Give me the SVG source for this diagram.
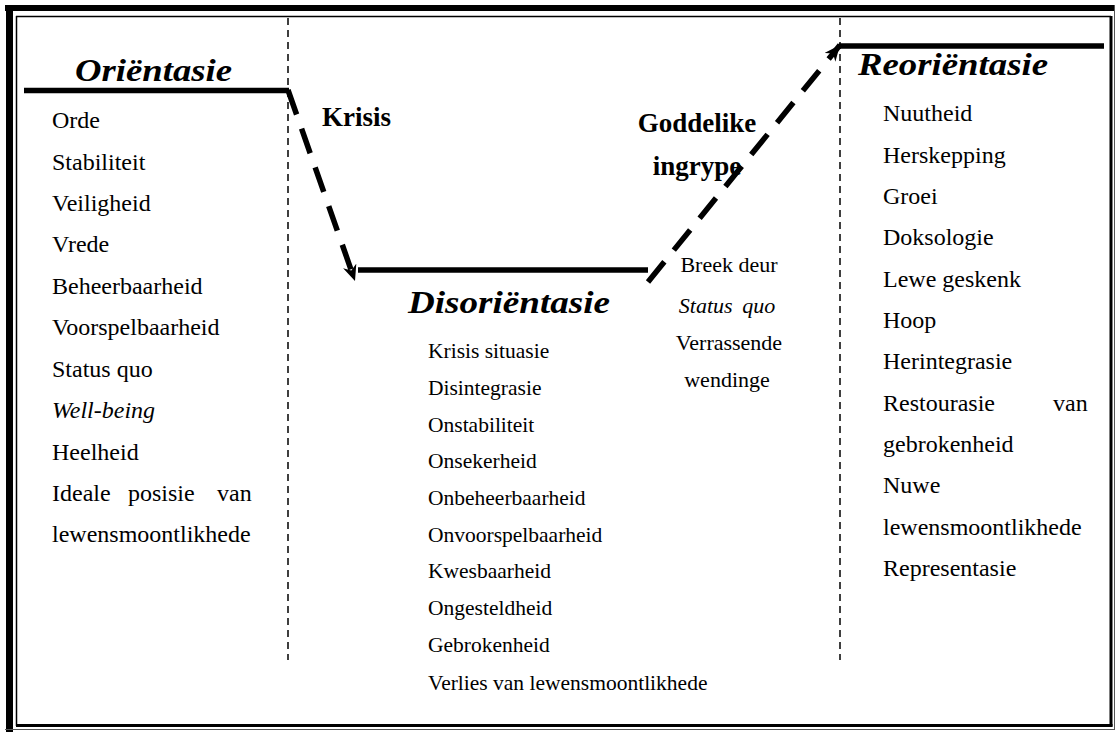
<svg xmlns="http://www.w3.org/2000/svg" width="1116" height="733" viewBox="0 0 1116 733" font-family="'Liberation Serif', 'Times New Roman', Tinos, 'DejaVu Serif', serif">
<style>
text { fill: #000; }
.body { font-size: 24px; }
.mid { font-size: 21.5px; }
.side { font-size: 22px; text-anchor: middle; }
.head { font-size: 32px; font-weight: bold; font-style: italic; }
.lab { font-size: 27px; font-weight: bold; }
.it { font-style: italic; }
.divider { stroke: #000; stroke-width: 1.5; stroke-dasharray: 7 5; fill: none; }
.solid { stroke: #000; stroke-width: 5.5; fill: none; }
.dash { stroke: #000; stroke-width: 5.5; stroke-dasharray: 26 15; fill: none; }
</style>
<defs>
<marker id="arr" markerUnits="userSpaceOnUse" markerWidth="18" markerHeight="14" refX="16" refY="7" orient="auto">
<path d="M0,0 L16,7 L0,14 L5,7 z" fill="#000"/>
</marker>
</defs>
<rect width="1116" height="733" fill="#fff"/>
<g id="frame">
<rect x="5" y="5" width="1109" height="6" fill="#000"/>
<rect x="6" y="5" width="7" height="727" fill="#000"/>
<line x1="1114.5" y1="5" x2="1114.5" y2="730" stroke="#555" stroke-width="1"/>
<line x1="5" y1="729.5" x2="1115" y2="729.5" stroke="#555" stroke-width="1"/>
<line x1="16.5" y1="16" x2="16.5" y2="726" stroke="#000" stroke-width="1.5"/>
<line x1="16" y1="16.5" x2="1111" y2="16.5" stroke="#000" stroke-width="1.5"/>
<line x1="1111" y1="16" x2="1111" y2="726.5" stroke="#000" stroke-width="3"/>
<line x1="16" y1="725.5" x2="1112.5" y2="725.5" stroke="#000" stroke-width="3"/>
</g>
<g id="dividers">
<line class="divider" x1="288" y1="18" x2="288" y2="660"/>
<line class="divider" x1="840" y1="18" x2="840" y2="660"/>
</g>
<g id="orientasie">
<text class="head" x="75" y="81" textLength="157" lengthAdjust="spacingAndGlyphs">Oriëntasie</text>
<text class="body" x="52" y="128">Orde</text>
<text class="body" x="52" y="169.5">Stabiliteit</text>
<text class="body" x="52" y="211">Veiligheid</text>
<text class="body" x="52" y="252">Vrede</text>
<text class="body" x="52" y="293.5">Beheerbaarheid</text>
<text class="body" x="52" y="335">Voorspelbaarheid</text>
<text class="body" x="52" y="376.5">Status quo</text>
<text class="body it" x="52" y="418">Well-being</text>
<text class="body" x="52" y="459.5">Heelheid</text>
<text class="body" y="501"><tspan x="52">Ideale</tspan><tspan x="128">posisie</tspan><tspan x="217">van</tspan></text>
<text class="body" x="52" y="542">lewensmoontlikhede</text>
</g>
<g id="krisis">
<text class="lab" x="322" y="126">Krisis</text>
</g>
<g id="disorientasie">
<text class="head" x="408" y="313" textLength="202" lengthAdjust="spacingAndGlyphs">Disoriëntasie</text>
<text class="mid" x="428" y="358">Krisis situasie</text>
<text class="mid" x="428" y="394.5">Disintegrasie</text>
<text class="mid" x="428" y="431.5">Onstabiliteit</text>
<text class="mid" x="428" y="468">Onsekerheid</text>
<text class="mid" x="428" y="504.5">Onbeheerbaarheid</text>
<text class="mid" x="428" y="541.5">Onvoorspelbaarheid</text>
<text class="mid" x="428" y="578">Kwesbaarheid</text>
<text class="mid" x="428" y="615">Ongesteldheid</text>
<text class="mid" x="428" y="651.5">Gebrokenheid</text>
<text class="mid" x="428" y="690">Verlies van lewensmoontlikhede</text>
</g>
<g id="goddelike">
<text class="lab" x="697" y="132" text-anchor="middle">Goddelike</text>
<text class="lab" x="697" y="175" text-anchor="middle">ingrype</text>
</g>
<g id="breek">
<text class="side" x="729" y="272">Breek deur</text>
<text class="side it" x="727" y="313" word-spacing="4">Status quo</text>
<text class="side" x="729" y="350">Verrassende</text>
<text class="side" x="727" y="387">wendinge</text>
</g>
<g id="reorientasie">
<text class="head" x="858" y="75" textLength="190" lengthAdjust="spacingAndGlyphs">Reoriëntasie</text>
<text class="body" x="883" y="121">Nuutheid</text>
<text class="body" x="883" y="162.5">Herskepping</text>
<text class="body" x="883" y="203.5">Groei</text>
<text class="body" x="883" y="245">Doksologie</text>
<text class="body" x="883" y="286.5">Lewe geskenk</text>
<text class="body" x="883" y="328">Hoop</text>
<text class="body" x="883" y="369">Herintegrasie</text>
<text class="body" y="410.5"><tspan x="883">Restourasie</tspan><tspan x="1053">van</tspan></text>
<text class="body" x="883" y="452">gebrokenheid</text>
<text class="body" x="883" y="493">Nuwe</text>
<text class="body" x="883" y="534.5">lewensmoontlikhede</text>
<text class="body" x="883" y="576">Representasie</text>
</g>
<g id="connectors">
<line class="solid" x1="24" y1="90.5" x2="289" y2="90.5"/>
<line class="dash" x1="288" y1="90" x2="355" y2="281" marker-end="url(#arr)"/>
<line class="solid" x1="358" y1="270" x2="648" y2="270"/>
<line class="dash" x1="648" y1="282" x2="840" y2="45" marker-end="url(#arr)"/>
<line class="solid" x1="839" y1="46" x2="1104" y2="46"/>
</g>
</svg>
